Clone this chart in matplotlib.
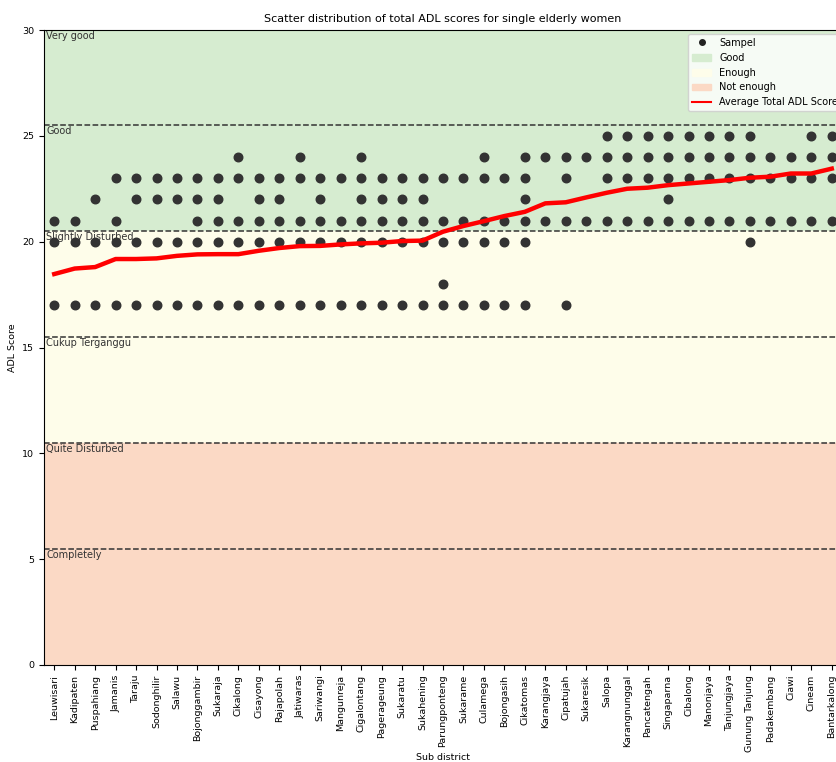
import numpy as np
import matplotlib.pyplot as plt
from matplotlib.patches import Patch
from matplotlib.lines import Line2D

# ----- Dati -----

districts = ["Leuwisari", "Kadipaten", "Puspahiang", "Jamanis", "Taraju", "Sodonghilir",
             "Salawu", "Bojonggambir", "Sukaraja", "Cikalong", "Cisayong", "Rajapolah",
             "Jatiwaras", "Sariwangi", "Mangunreja", "Cigalontang", "Pagerageung", "Sukaratu",
             "Sukahening", "Parungponteng", "Sukarame", "Culamega", "Bojongasih", "Cikatomas",
             "Karangjaya", "Cipatujah", "Sukaresik", "Salopa", "Karangnunggal", "Pancatengah",
             "Singaparna", "Cibalong", "Manonjaya", "Tanjungjaya", "Gunung Tanjung",
             "Padakembang", "Ciawi", "Cineam", "Bantarkalong"]

sample_scores = [
    [17, 20, 21], [17, 20, 21], [17, 20, 22], [17, 20, 21, 23], [17, 20, 22, 23],
    [17, 20, 22, 23], [17, 20, 22, 23], [17, 20, 21, 22, 23], [17, 20, 21, 22, 23],
    [17, 20, 21, 23, 24], [17, 20, 21, 22, 23], [17, 20, 21, 22, 23], [17, 20, 21, 23, 24],
    [17, 20, 21, 22, 23], [17, 20, 21, 23], [17, 20, 21, 22, 23, 24], [17, 20, 21, 22, 23],
    [17, 20, 21, 22, 23], [17, 20, 21, 22, 23], [17, 18, 20, 21, 23], [17, 20, 21, 23],
    [17, 20, 21, 23, 24], [17, 20, 21, 23], [17, 20, 21, 22, 23, 24], [21, 24],
    [17, 21, 23, 24], [21, 24], [21, 23, 24, 25], [21, 23, 24, 25], [21, 23, 24, 25],
    [21, 22, 23, 24, 25], [21, 23, 24, 25], [21, 23, 24, 25], [21, 23, 24, 25],
    [20, 21, 23, 24, 25], [21, 23, 24], [21, 23, 24], [21, 23, 24, 25], [21, 23, 24, 25],
]

average_scores = [18.47, 18.73, 18.80, 19.18, 19.18, 19.21, 19.33, 19.40, 19.41, 19.41,
                  19.57, 19.70, 19.79, 19.80, 19.87, 19.92, 19.95, 20.03, 20.05, 20.47,
                  20.74, 20.97, 21.21, 21.41, 21.81, 21.86, 22.09, 22.31, 22.50, 22.55,
                  22.67, 22.75, 22.83, 22.91, 23.02, 23.07, 23.22, 23.22, 23.45]

band_labels = ["Very good", "Good", "Slightly Disturbed", "Cukup Terganggu",
               "Quite Disturbed", "Completely"]
band_tops = [30, 25.5, 20.5, 15.5, 10.5, 5.5]

# ----- Grafico -----

def main():
    fig = plt.figure(figsize=(8.37, 7.62), dpi=100)
    ax = fig.add_axes([44 / 837, 97 / 762, 798 / 837, 635 / 762])

    col_good = "#d6ecd0"
    col_enough = "#fefdea"
    col_bad = "#fbd9c5"
    ax.axhspan(20.5, 30, color=col_good, zorder=0)
    ax.axhspan(10.5, 20.5, color=col_enough, zorder=0)
    ax.axhspan(0, 10.5, color=col_bad, zorder=0)

    for y in band_tops[1:]:
        ax.axhline(y, color="#333333", linestyle="--", linewidth=1.1, zorder=1)

    for lab, y in zip(band_labels, band_tops):
        ax.text(-0.38, y - 0.05, lab, fontsize=7, va="top", ha="left",
                color="#333333", zorder=2)

    x_pts = []
    y_pts = []
    for i, scores in enumerate(sample_scores):
        for s in scores:
            x_pts.append(i)
            y_pts.append(s)
    ax.scatter(x_pts, y_pts, s=38, color="#333333", zorder=3)

    x_axis = np.arange(len(districts))
    ax.plot(x_axis, average_scores, color="red", linewidth=3.2, zorder=4)

    ax.set_xlim(-0.5, len(districts) - 0.5)
    ax.set_ylim(0, 30)
    ax.set_xticks(x_axis)
    ax.set_xticklabels(districts, rotation=90, fontsize=6.8)
    ax.tick_params(axis="y", labelsize=6.8)
    ax.set_yticks([0, 5, 10, 15, 20, 25, 30])
    ax.set_xlabel("Sub district", fontsize=6.8, labelpad=1)
    ax.set_ylabel("ADL Score", fontsize=6.8)
    ax.set_title("Scatter distribution of total ADL scores for single elderly women",
                 fontsize=8)

    handles = [
        Line2D([], [], marker="o", linestyle="none", color="#222222", markersize=4),
        Patch(color=col_good),
        Patch(color=col_enough),
        Patch(color=col_bad),
        Line2D([], [], color="red", linewidth=1.5),
    ]
    names = ["Sampel", "Good", "Enough", "Not enough", "Average Total ADL Score"]
    ax.legend(handles, names, loc="upper left", fontsize=7, framealpha=0.8,
              bbox_to_anchor=(688 / 837, 1 - 34 / 762), bbox_transform=fig.transFigure,
              borderaxespad=0)

    plt.savefig("out.png", dpi=100)

if __name__ == '__main__':
    main()
